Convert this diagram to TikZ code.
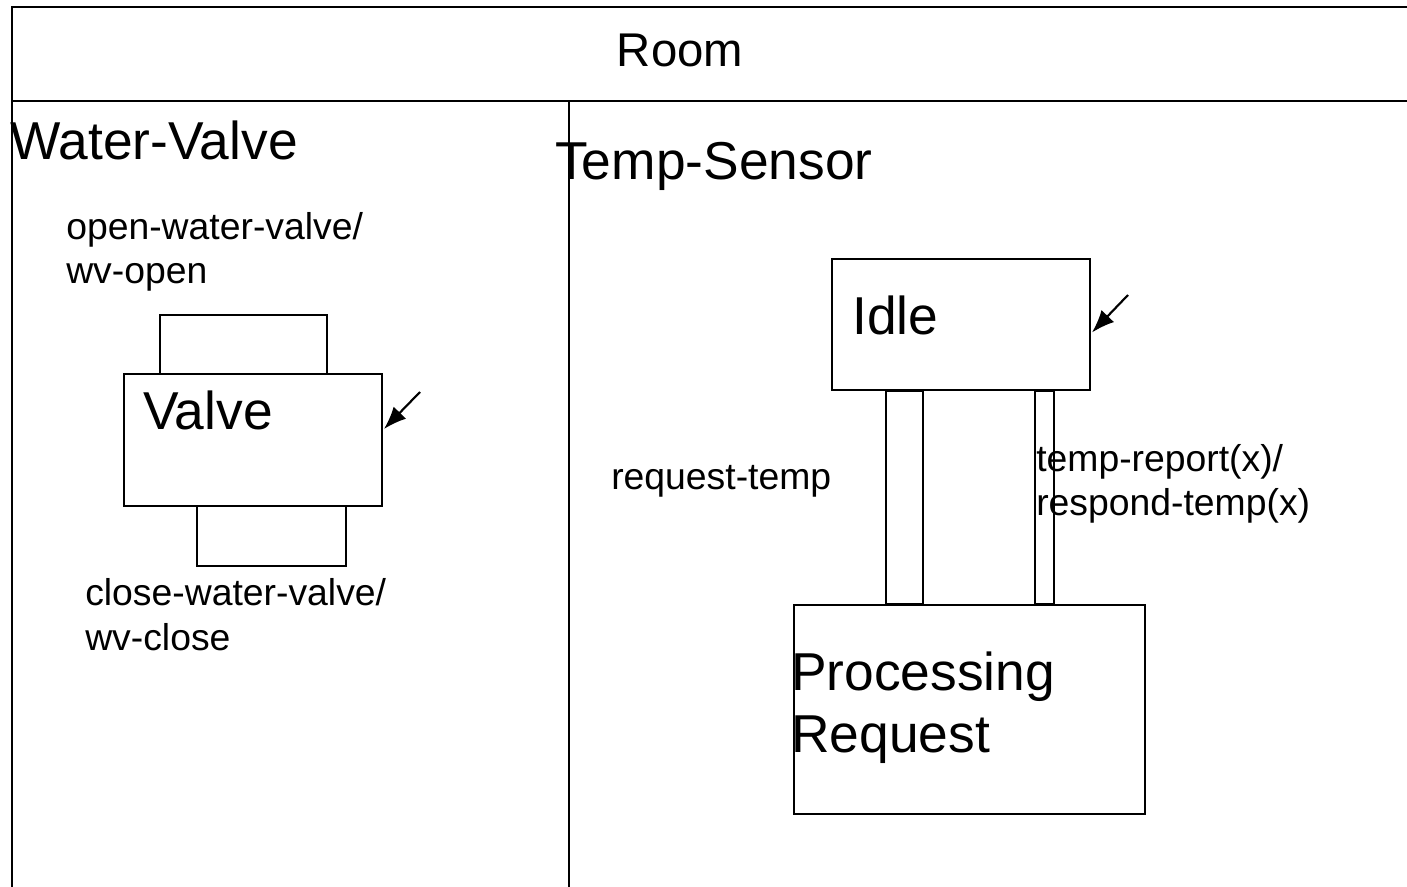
\documentclass[tikz,border=0pt]{standalone}
\usepackage{fontspec}
\setmainfont{Liberation Sans}
\usetikzlibrary{arrows.meta}
\begin{document}
\begin{tikzpicture}[x=0.75pt,y=-0.75pt,
  box/.style={draw,line width=1.5pt,inner sep=0pt,anchor=north west},
  big/.style={font=\fontsize{40}{46.5}\selectfont},
  small/.style={font=\fontsize{28}{33}\selectfont},
  lbl/.style={inner sep=0pt,anchor=base west,align=left},
  frameline/.style={line width=1.5pt},
  ptr/.style={line width=1.6pt,-{Latex[length=17pt,width=13pt]}}]
\useasboundingbox (0,0) rectangle (1407,887);
% frame
\draw[frameline] (12,887) -- (12,7) -- (1407,7);
\draw[frameline] (12,101) -- (1407,101);
\draw[frameline] (569,101) -- (569,887);
\node[inner sep=0pt,anchor=base,font=\fontsize{35.5}{42}\selectfont] (room) at (680,67) {Room};
% Water-Valve region
\node[lbl,big] (wvtitle) at (10,160) {Water-Valve};
\node[lbl,small] (openlbl) at (66,284) {open-water-valve/\\wv-open};
\node[box,minimum width=125.25pt,minimum height=44.25pt] (topbox) at (159,314) {};
\node[box,minimum width=111.75pt,minimum height=45pt] (botbox) at (196,505) {};
\node[box,minimum width=193.5pt,minimum height=99pt] (valve) at (123,373) {};
\node[lbl,big] (valvetxt) at (143,430) {Valve};
\node[lbl,small] (closelbl) at (85,650) {close-water-valve/\\wv-close};
\coordinate (valveptr) at (420,392);
\draw[ptr] (valveptr) -- ([shift={(1,-11)}]valve.east);
% Temp-Sensor region
\node[lbl,big] (tstitle) at (555,180) {Temp-Sensor};
\node[box,minimum width=193.5pt,minimum height=98.25pt] (idle) at (831,258) {};
\node[lbl,big] (idletxt) at (852,335) {Idle};
\coordinate (idleptr) at (1128,295);
\draw[ptr] (idleptr) -- ([shift={(1,8)}]idle.east);
\node[box,minimum width=27.75pt,minimum height=159.75pt] (reqbar) at (885,390) {};
\node[box,minimum width=14.25pt,minimum height=159.75pt] (repbar) at (1034,390) {};
\node[box,minimum width=263.25pt,minimum height=156.75pt] (proc) at (793,604) {};
\node[lbl,big] (proctxt) at (791,752) {Processing\\Request};
\node[lbl,small] (reqlbl) at (611,490) {request-temp};
\node[lbl,small] (replbl) at (1036,516) {temp-report(x)/\\respond-temp(x)};
\end{tikzpicture}
\end{document}
